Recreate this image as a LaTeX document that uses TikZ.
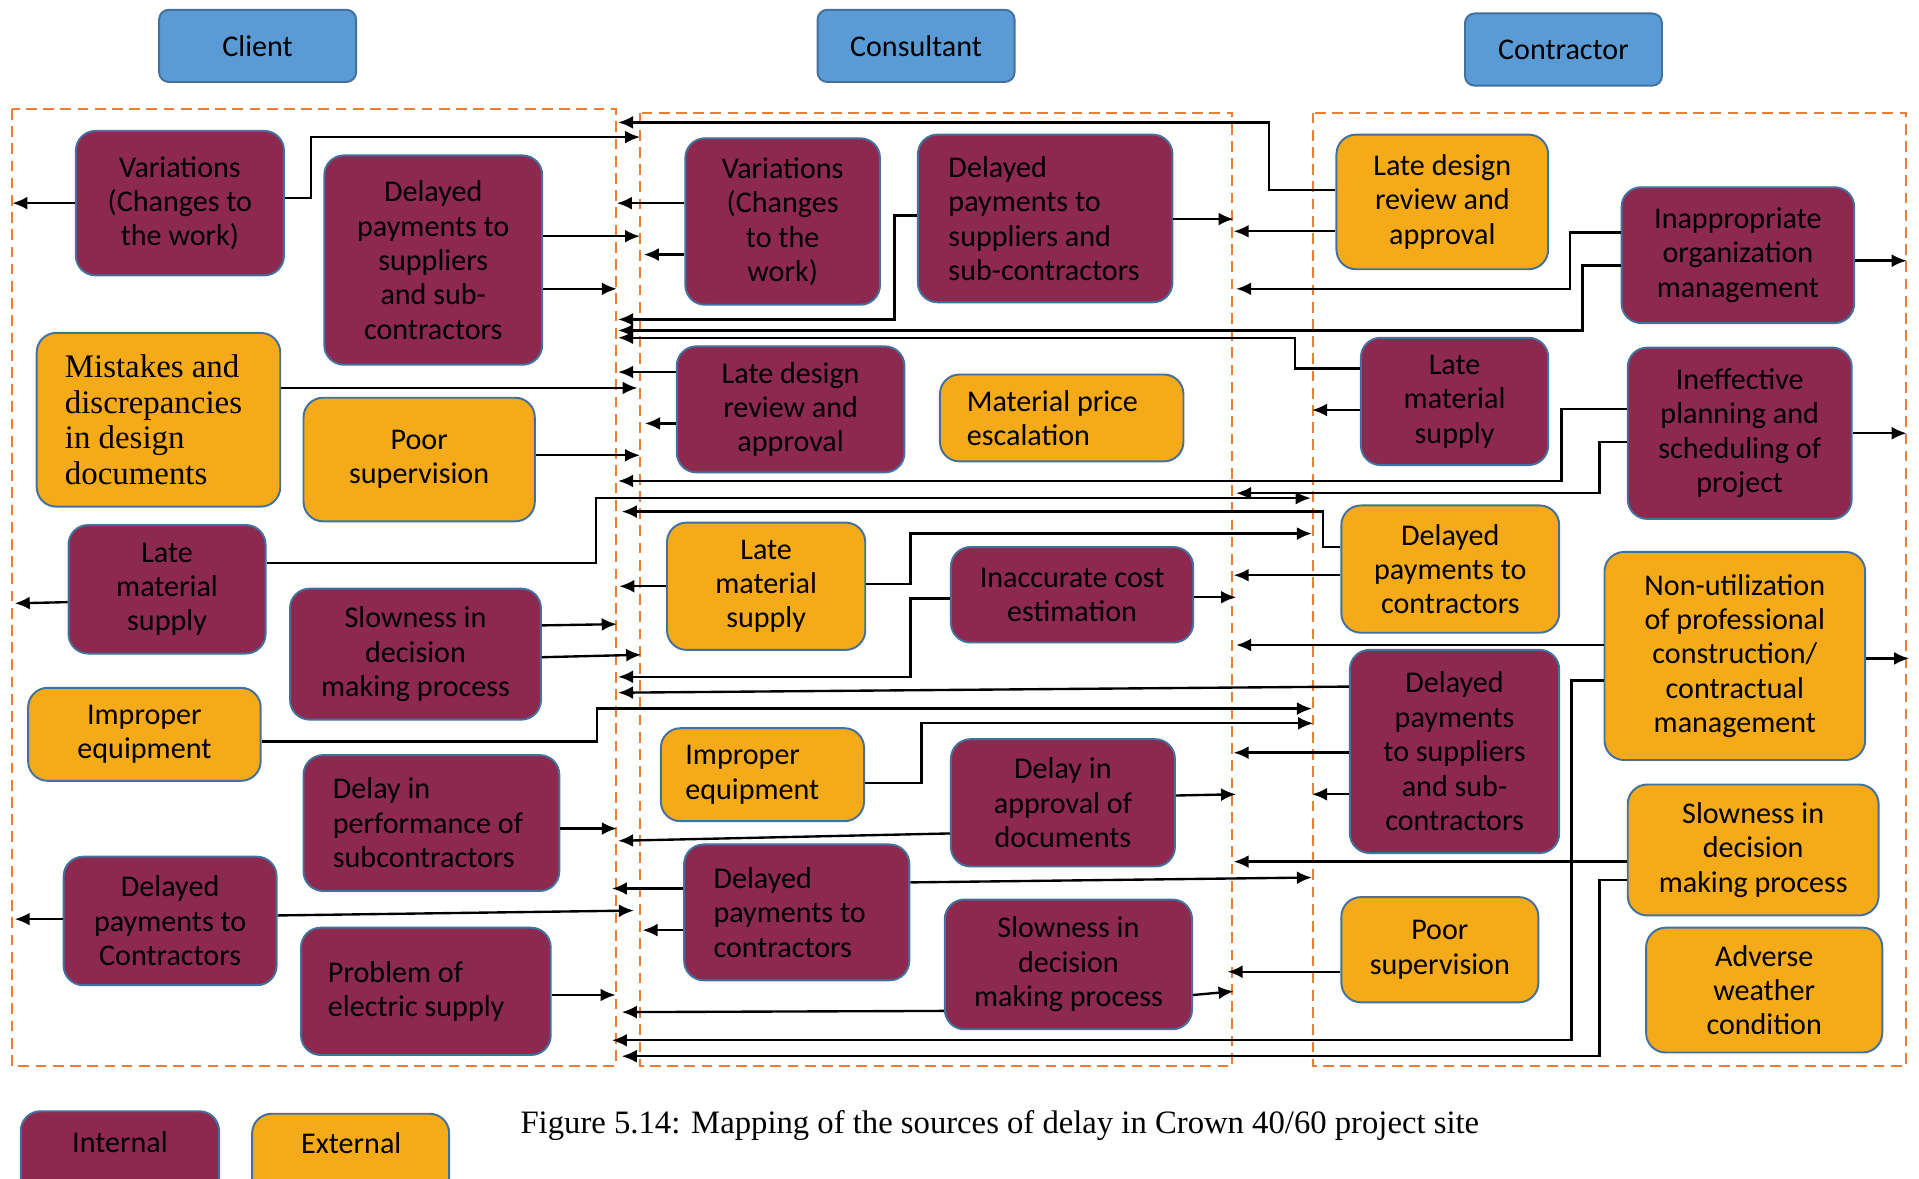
\documentclass[tikz,border=0pt]{standalone}
\usepackage{fontspec}
\setmainfont{Carlito}
\newfontfamily\serifface{Liberation Serif}
\usetikzlibrary{arrows.meta}

\definecolor{intfill}{RGB}{141,41,79}
\definecolor{extfill}{RGB}{245,170,25}
\definecolor{headfill}{RGB}{91,155,213}
\definecolor{edgeblue}{RGB}{65,113,156}
\definecolor{zoneorange}{RGB}{237,125,49}

% box from corner (x1,y1) to (x2,y2), text centred
\newcommand\mkbox[7]{%
  \pgfmathsetmacro\boxwd{(#5-#3)*0.02}%
  \pgfmathsetmacro\boxht{(#6-#4)*0.02}%
  \node[#1, minimum width=\boxwd cm, minimum height=\boxht cm]
    (#2) at ({(#3+#5)/2},{(#4+#6)/2}) {#7};}
% box with left-aligned text, #7 = left padding
\newcommand\mkleftbox[8]{%
  \pgfmathsetmacro\boxwd{(#5-#3)*0.02}%
  \pgfmathsetmacro\boxht{(#6-#4)*0.02}%
  \pgfmathsetmacro\boxtw{(#5-#3-2*#7)*0.02}%
  \pgfmathsetmacro\boxpad{#7*0.02}%
  \node[#1, align=flush left, text width=\boxtw cm, inner xsep=\boxpad cm,
        minimum width=\boxwd cm, minimum height=\boxht cm]
    (#2) at ({(#3+#5)/2},{(#4+#6)/2}) {#8};}

\tikzset{
  basebox/.style={draw=edgeblue, line width=0.9pt, rounded corners=0.32cm,
    inner sep=0pt, align=center, text=black,
    font=\fontsize{14}{16}\selectfont},
  intern/.style={basebox, fill=intfill},
  extern/.style={basebox, fill=extfill},
  headbox/.style={basebox, fill=headfill, rounded corners=0.16cm},
  zone/.style={draw=zoneorange, line width=0.9pt, dash pattern=on 5pt off 3pt},
  conn/.style={line width=1.1pt, -{Latex[length=7pt,width=6pt]}},
}

\begin{document}
\begin{tikzpicture}[x=0.02cm, y=-0.02cm]
\useasboundingbox (0,0) rectangle (1568,963);
\fill[white] (0,0) rectangle (1568,963);
\clip (0,0) rectangle (1568,963);

% party headers
\mkbox{headbox}{hClient}{130}{8}{291}{67}{Client}
\mkbox{headbox}{hConsult}{668}{8}{829}{67}{Consultant}
\mkbox{headbox}{hContract}{1197}{11}{1358}{70}{Contractor}

% dashed zones
\draw[zone] (10,89) rectangle (503,871);
\draw[zone] (523,92) rectangle (1007,871);
\draw[zone] (1073,92) rectangle (1557,871);

% client causes
\mkbox{intern}{varA}{62}{107}{232}{225}{Variations\\(Changes to\\the work)}
\mkbox{intern}{dpsA}{265}{127}{443}{298}{Delayed\\payments to\\suppliers\\and sub-\\contractors}
\mkleftbox{extern, font=\serifface\fontsize{15.3}{16.6}\selectfont}{misA}{30}{272}{229}{414}{23}{Mistakes and\\discrepancies\\in design\\documents}
\mkbox{extern}{psA}{248}{325}{437}{426}{Poor\\supervision}
\mkbox{intern}{lmsA}{56}{429}{217}{534}{Late\\material\\supply}
\mkbox{intern}{sdmA}{237}{481}{442}{588}{Slowness in\\decision\\making process}
\mkbox{extern}{ieA}{23}{562}{213}{638}{Improper\\equipment}
\mkleftbox{intern}{dipA}{248}{617}{457}{728}{24}{Delay in\\performance of\\subcontractors}
\mkbox{intern}{dpcA}{52}{700}{226}{805}{Delayed\\payments to\\Contractors}
\mkleftbox{intern}{pesA}{246}{758}{450}{862}{22}{Problem of\\electric supply}

% consultant causes
\mkbox{intern}{varB}{560}{113}{719}{249}{Variations\\(Changes\\to the\\work)}
\mkleftbox{intern}{dpsB}{750}{110}{958}{247}{25}{Delayed\\payments to\\suppliers and\\sub-contractors}
\mkbox{intern}{ldrB}{553}{283}{739}{386}{Late design\\review and\\approval}
\mkleftbox{extern}{mpeB}{768}{306}{967}{377}{22}{Material price\\escalation}
\mkbox{extern}{lmsB}{545}{427}{707}{531}{Late\\material\\supply}
\mkbox{intern}{iceB}{777}{447}{975}{525}{Inaccurate cost\\estimation}
\mkleftbox{extern}{ieB}{540}{595}{706}{671}{20}{Improper\\equipment}
\mkbox{intern}{dadB}{777}{604}{960}{708}{Delay in\\approval of\\documents}
\mkleftbox{intern}{dpcB}{559}{690}{743}{801}{24}{Delayed\\payments to\\contractors}
\mkbox{intern}{sdmB}{772}{735}{974}{841}{Slowness in\\decision\\making process}

% contractor causes
\mkbox{extern}{ldrC}{1092}{110}{1265}{220}{Late design\\review and\\approval}
\mkbox{intern}{iomC}{1325}{153}{1515}{264}{Inappropriate\\organization\\management}
\mkbox{intern}{lmsC}{1112}{276}{1265}{380}{Late\\material\\supply}
\mkbox{intern}{ipsC}{1330}{284}{1513}{424}{Ineffective\\planning and\\scheduling of\\project}
\mkbox{extern}{dpcC}{1096}{413}{1274}{517}{Delayed\\payments to\\contractors}
\mkbox{extern}{nuC}{1311}{451}{1524}{621}{Non-utilization\\of professional\\construction/\\contractual\\management}
\mkbox{intern}{dpsC}{1103}{531}{1274}{697}{Delayed\\payments\\to suppliers\\and sub-\\contractors}
\mkbox{extern}{sdmC}{1330}{641}{1535}{748}{Slowness in\\decision\\making process}
\mkbox{extern}{psC}{1096}{733}{1257}{819}{Poor\\supervision}
\mkbox{extern}{awC}{1345}{758}{1538}{860}{Adverse\\weather\\condition}

% client links
\draw[conn] (varA.west |- 0,166) -- (10,166);
\draw[conn] (varA.east |- 0,162) -- (254,162) |- (523,112);
\draw[conn] (dpsA.east |- 0,193) -- (523,193);
\draw[conn] (dpsA.east |- 0,236) -- (504,236);
\draw[conn] (misA.east |- 0,317) -- (521,317);
\draw[conn] (psA.east |- 0,372) -- (523,372);
\draw[conn] (lmsA.west |- 0,492) -- (12,493);
\draw[conn] (lmsA.east |- 0,460) -| (487,407) -- (1071,407);
\draw[conn] (sdmA.east |- 0,511) -- (504,510);
\draw[conn] (sdmA.east |- 0,537) -- (524,535);
\draw[conn] (ieA.east |- 0,606) -| (488,579) -- (1072,579);
\draw[conn] (dipA.east |- 0,677) -- (504,677);
\draw[conn] (dpcA.west |- 0,751) -- (12,751);
\draw[conn] (dpcA.east |- 0,748) -- (518,744);
\draw[conn] (pesA.east |- 0,813) -- (503,813);

% consultant links
\draw[conn] (varB.west |- 0,166) -- (504,166);
\draw[conn] (varB.west |- 0,208) -- (526,208);
\draw[conn] (dpsB.east |- 0,179) -- (1008,179);
\draw[conn] (dpsB.west |- 0,176) -| (731,261) -- (505,261);
\draw[conn] (ldrB.west |- 0,304) -- (505,304);
\draw[conn] (ldrB.west |- 0,346) -- (527,346);
\draw[conn] (lmsB.west |- 0,479) -- (506,479);
\draw[conn] (lmsB.east |- 0,477) -| (744,436) -- (1072,436);
\draw[conn] (iceB.east |- 0,488) -- (1010,488);
\draw[conn] (iceB.west |- 0,489) -| (744,553) -- (505,553);
\draw[conn] (ieB.east |- 0,640) -| (753,591) -- (1073,591);
\draw[conn] (dadB.east |- 0,650) -- (1010,649);
\draw[conn] (dadB.west |- 0,681) -- (505,687);
\draw[conn] (dpcB.west |- 0,726) -- (500,726);
\draw[conn] (dpcB.west |- 0,760) -- (525,760);
\draw[conn] (dpcB.east |- 0,721) -- (1072,717);
\draw[conn] (sdmB.west |- 0,826) -- (508,827);
\draw[conn] (sdmB.east |- 0,813) -- (1008,810);

% contractor links
\draw[conn] (ldrC.west |- 0,155) -| (1037,100) -- (505,100);
\draw[conn] (ldrC.west |- 0,189) -- (1008,189);
\draw[conn] (iomC.east |- 0,213) -- (1558,213);
\draw[conn] (iomC.west |- 0,190) -| (1283,236) -- (1010,236);
\draw[conn] (iomC.west |- 0,217) -| (1293,270) -- (505,270);
\draw[conn] (lmsC.west |- 0,301) -| (1058,276) -- (505,276);
\draw[conn] (lmsC.west |- 0,335) -- (1072,335);
\draw[conn] (ipsC.east |- 0,354) -- (1558,354);
\draw[conn] (ipsC.west |- 0,334) -| (1276,393) -- (505,393);
\draw[conn] (ipsC.west |- 0,361) -| (1307,403) -- (1010,403);
\draw[conn] (dpcC.west |- 0,447) -| (1081,418) -- (508,418);
\draw[conn] (dpcC.west |- 0,470) -- (1008,470);
\draw[conn] (nuC.east |- 0,538) -- (1560,538);
\draw[conn] (nuC.west |- 0,527) -- (1010,527);
\draw[conn] (nuC.west |- 0,556) -| (1284,850) -- (500,850);
\draw[conn] (dpsC.west |- 0,561) -- (505,566);
\draw[conn] (dpsC.west |- 0,615) -- (1008,615);
\draw[conn] (dpsC.west |- 0,649) -- (1072,649);
\draw[conn] (sdmC.west |- 0,704) -- (1008,704);
\draw[conn] (sdmC.west |- 0,719) -| (1307,863) -- (508,863);
\draw[conn] (psC.west |- 0,794) -- (1003,794);

% legend
\mkbox{intern}{legInt}{17}{908}{179}{980}{}
\node[font=\fontsize{14}{16}\selectfont] (legIntText) at (98,933) {Internal};
\mkbox{extern}{legExt}{206}{910}{367}{980}{}
\node[font=\fontsize{14}{16}\selectfont] (legExtText) at (287,934) {External};

% caption
\node[font=\serifface\fontsize{15.2}{18}\selectfont, anchor=west, inner sep=0pt]
  (caption) at (425,920) {Figure 5.14: Mapping of the sources of delay in Crown 40/60 project site};
\end{tikzpicture}
\end{document}
